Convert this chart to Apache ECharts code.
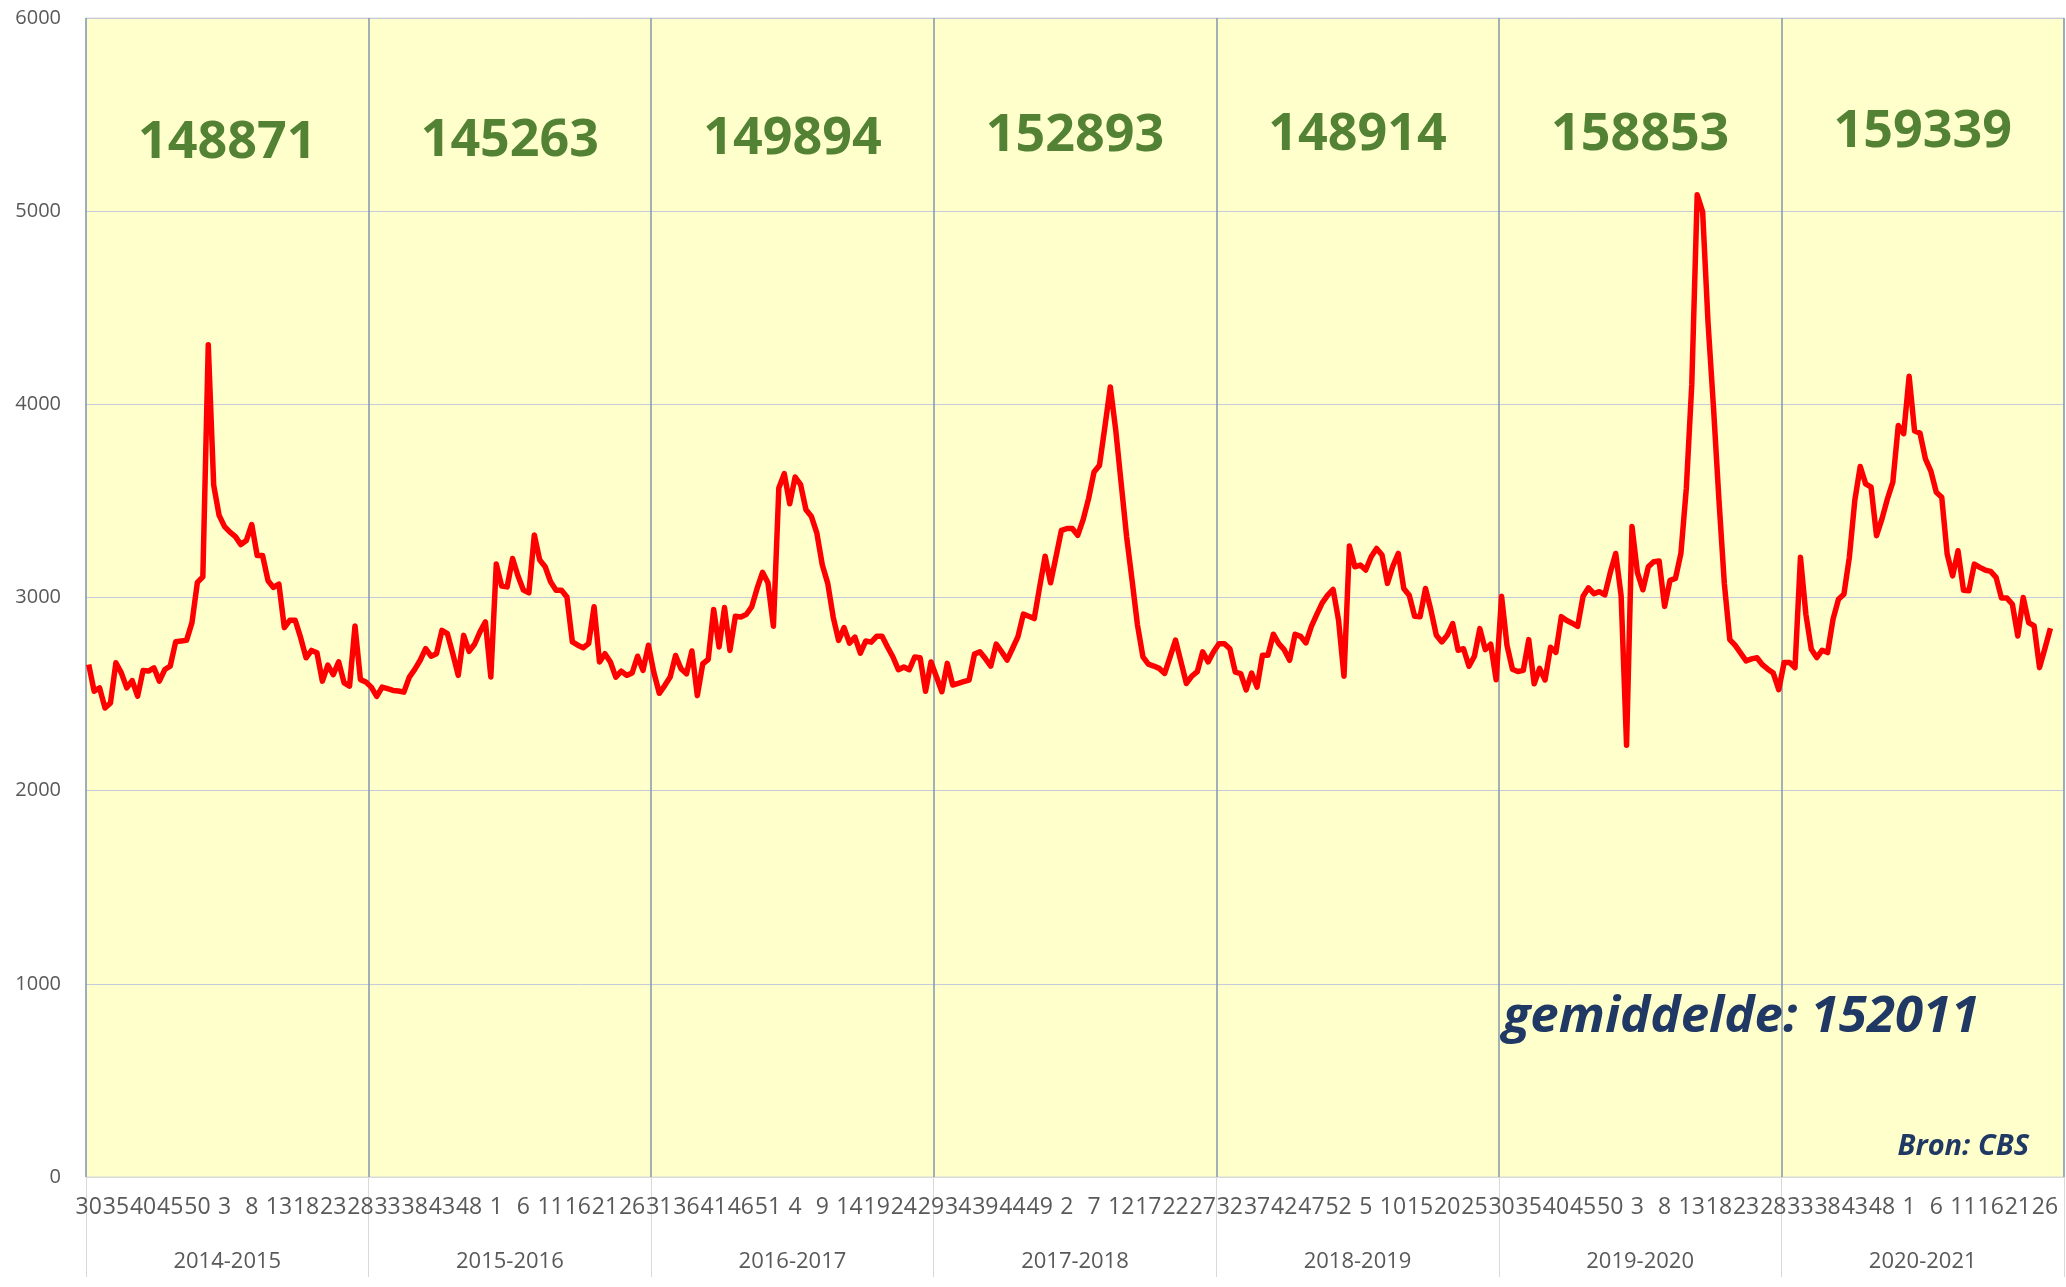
<!DOCTYPE html>
<html><head><meta charset="utf-8">
<script src="https://cdn.jsdelivr.net/npm/echarts@6/dist/echarts.min.js"></script>
<style>html,body{margin:0;padding:0;background:#fff}#c{width:2066px;height:1287px}</style>
</head><body><div id="c"></div>
<script>
const seasons = ['2014-2015','2015-2016','2016-2017','2017-2018','2018-2019','2019-2020','2020-2021'];
const seasonTotals = [148871,145263,149894,152893,148914,158853,159339];
const weekNumbers = [30,31,32,33,34,35,36,37,38,39,40,41,42,43,44,45,46,47,48,49,50,51,52,
  1,2,3,4,5,6,7,8,9,10,11,12,13,14,15,16,17,18,19,20,21,22,23,24,25,26,27,28,29];
const yTicks = {min:0, max:6000, interval:1000};
const averageText = 'gemiddelde: 152011';
const sourceText = 'Bron: CBS';

const d2014_2015 = [2653,2515,2532,2428,2454,2662,2610,2532,2570,2489,2622,2619,2636,2567,2627,2645,2771,2775,2778,2870,3078,3107,4308,3581,3425,3367,3338,3315,3274,3295,3378,3217,3217,3087,3052,3069,2844,2882,2882,2792,2688,2726,2714,2567,2650,2601,2667,2558,2541,2853,2575,2563];
const d2015_2016 = [2536,2488,2536,2528,2519,2516,2510,2588,2628,2675,2735,2696,2709,2830,2813,2709,2597,2804,2721,2758,2822,2874,2588,3173,3059,3055,3202,3111,3038,3024,3324,3194,3159,3081,3038,3038,3003,2770,2753,2740,2761,2952,2666,2709,2666,2588,2619,2597,2609,2696,2623,2753];
const d2016_2017 = [2612,2504,2544,2588,2700,2631,2605,2723,2492,2657,2679,2938,2744,2948,2726,2903,2899,2912,2951,3047,3130,3076,2851,3567,3641,3485,3624,3584,3454,3419,3333,3168,3073,2899,2778,2844,2764,2795,2712,2775,2769,2799,2799,2744,2692,2626,2640,2626,2692,2688,2515,2666];
const d2017_2018 = [2590,2512,2659,2547,2555,2564,2572,2707,2719,2684,2645,2759,2719,2676,2736,2797,2914,2903,2891,3055,3214,3076,3210,3348,3357,3357,3322,3403,3512,3650,3684,3883,4090,3866,3590,3314,3090,2857,2693,2655,2645,2633,2607,2693,2779,2667,2555,2593,2616,2719,2667,2719];
const d2018_2019 = [2761,2761,2735,2614,2606,2522,2609,2536,2701,2701,2810,2761,2730,2675,2810,2799,2765,2851,2913,2972,3012,3042,2882,2592,3266,3159,3168,3142,3211,3254,3220,3073,3163,3228,3047,3012,2903,2900,3047,2934,2804,2770,2804,2865,2727,2735,2644,2696,2839,2730,2758,2574];
const d2019_2020 = [3006,2752,2629,2617,2623,2782,2553,2633,2573,2742,2716,2901,2881,2867,2851,3006,3050,3020,3030,3014,3129,3228,3010,2235,3367,3129,3040,3159,3185,3189,2954,3089,3099,3228,3566,4102,5085,4996,4420,3983,3506,3070,2782,2752,2712,2672,2682,2688,2652,2629,2609,2523];
const d2020_2021 = [2663,2663,2637,3208,2913,2732,2689,2727,2715,2888,2991,3017,3208,3502,3678,3588,3571,3320,3407,3510,3597,3891,3848,4145,3862,3851,3718,3654,3545,3519,3225,3112,3242,3038,3035,3173,3156,3142,3135,3104,2997,2997,2965,2801,3000,2870,2853,2637,2737,2841];

const seasonData = [d2014_2015,d2015_2016,d2016_2017,d2017_2018,d2018_2019,d2019_2020,d2020_2021];
const categories = [];
const values = [];
seasonData.forEach(arr => {
  weekNumbers.forEach((w, i) => {
    categories.push(String(w));
    values.push(i < arr.length ? arr[i] : null);
  });
});

const chart = echarts.init(document.getElementById('c'), null, {renderer:'canvas'});
const FONT = '"Open Sans", "Noto Sans", sans-serif';
chart.setOption({
  animation: false,
  backgroundColor: '#ffffff',
  grid: {left: 86, right: 2, top: 18, bottom: 110, show: true, backgroundColor: '#FFFFCC', borderColor: '#D9D9D9', borderWidth: 1},
  xAxis: [
    {type: 'category', data: categories, boundaryGap: true,
     axisTick: {show: false},
     axisLine: {show: true, lineStyle: {color: '#D9D9D9'}},
     axisLabel: {interval: 4, color: '#595959', fontSize: 23, fontFamily: FONT, margin: 19},
     splitLine: {show: false}},
    {type: 'category', data: seasons, boundaryGap: true, position: 'bottom',
     axisLine: {show: false},
     axisTick: {show: true, length: 100, lineStyle: {color: '#D9D9D9', width: 1}},
     axisLabel: {color: '#595959', fontSize: 22, fontFamily: FONT, margin: 74},
     splitLine: {show: true, lineStyle: {color: '#8497B0', width: 1.5}}}
  ],
  yAxis: {type: 'value', min: yTicks.min, max: yTicks.max, interval: yTicks.interval,
    axisLine: {show: false}, axisTick: {show: false},
    axisLabel: {color: '#595959', fontSize: 20, fontFamily: FONT, margin: 25, formatter: v => String(v)},
    splitLine: {lineStyle: {color: '#C5CBDA', width: 1}}},
  series: [{type: 'line', xAxisIndex: 0, data: values, symbol: 'none', connectNulls: false,
    lineStyle: {color: '#FF0000', width: 5.5, join: 'round'}, itemStyle: {color: '#FF0000'}, z: 5}]
});

const bigY = [143, 141, 139, 136, 135, 135, 132];
const graphics = seasons.map((s, k) => ({
  type: 'text', x: chart.convertToPixel({xAxisIndex: 1}, s), y: bigY[k], z: 10,
  style: {text: String(seasonTotals[k]), fill: '#548235', font: 'bold 52px ' + FONT,
    textAlign: 'center', textVerticalAlign: 'middle', align: 'center', verticalAlign: 'middle'}
}));
graphics.push({type: 'text', x: 1741, y: 1017, z: 10,
  style: {text: averageText, fill: '#1F3864', font: 'italic bold 51px ' + FONT,
    textAlign: 'center', textVerticalAlign: 'middle', align: 'center', verticalAlign: 'middle'}});
graphics.push({type: 'text', x: 2029, y: 1147, z: 10,
  style: {text: sourceText, fill: '#1F3864', font: 'italic bold 29px ' + FONT,
    textAlign: 'right', textVerticalAlign: 'middle', align: 'right', verticalAlign: 'middle'}});
chart.setOption({graphic: graphics});
</script></body></html>
